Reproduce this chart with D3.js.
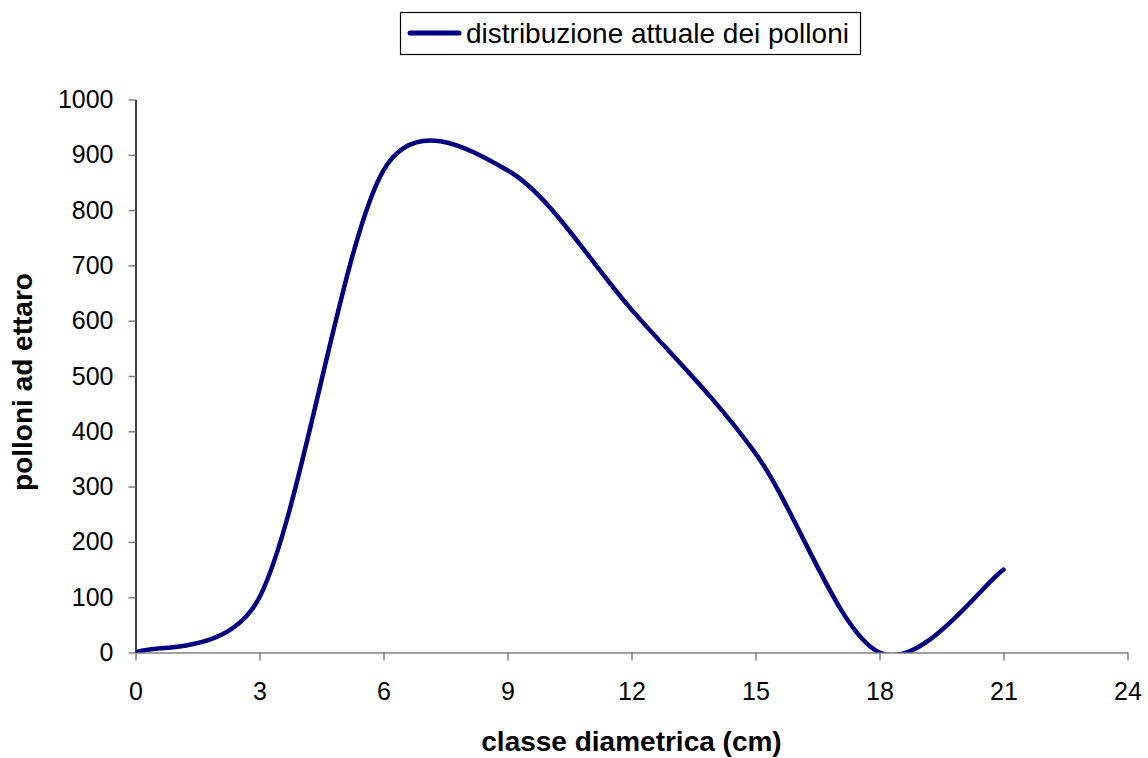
<!DOCTYPE html>
<html>
<head>
<meta charset="utf-8">
<script src="https://cdn.jsdelivr.net/npm/d3@7"></script>
<style>
  body { margin: 0; background: #fff; }
  svg { display: block; font-family: "Liberation Sans", Arial, sans-serif; }
</style>
</head>
<body>
<div id="chart"><svg></svg></div>
<script>
const classes = [0, 3, 6, 9, 12, 15, 18, 21]
const polloni = [0, 100, 872, 872, 620, 360, 0, 150]
const xTicks = [0, 3, 6, 9, 12, 15, 18, 21, 24]
const yTicks = [0, 100, 200, 300, 400, 500, 600, 700, 800, 900, 1000]
const seriesName = "distribuzione attuale dei polloni"
const xTitle = "classe diametrica (cm)"
const yTitle = "polloni ad ettaro"

const width = 1148
const height = 758
const plotLeft = 135.5
const plotRight = 1127.5
const plotTop = 99.5
const plotBottom = 652.5
const lineColor = "#000080"

// excel-like smoothing: bezier with 1/6 tangents, shortened on short segments
function ExcelCurve(context) {
  this._context = context
}
ExcelCurve.prototype = {
  areaStart() {},
  areaEnd() {},
  lineStart() {
    this._pts = []
  },
  point(x, y) {
    this._pts.push([+x, +y])
  },
  lineEnd() {
    const p = this._pts
    const n = p.length
    const ctx = this._context
    if (!n) return
    ctx.moveTo(p[0][0], p[0][1])
    const dist = (a, b) => Math.hypot(a[0] - b[0], a[1] - b[1])
    for (let i = 0; i < n - 1; i++) {
      const p0 = p[Math.max(i - 1, 0)]
      const p1 = p[i]
      const p2 = p[i + 1]
      const p3 = p[Math.min(i + 2, n - 1)]
      const d12 = dist(p1, p2)
      const d02 = dist(p0, p2)
      const d13 = dist(p1, p3)
      let f0 = 1 / 6
      let f1 = 1 / 6
      if (d02 / 6 >= d12 / 2) f0 = d12 / (2 * d02)
      if (d13 / 6 >= d12 / 2) f1 = d12 / (2 * d13)
      ctx.bezierCurveTo(
        p1[0] + f0 * (p2[0] - p0[0]), p1[1] + f0 * (p2[1] - p0[1]),
        p2[0] - f1 * (p3[0] - p1[0]), p2[1] - f1 * (p3[1] - p1[1]),
        p2[0], p2[1]
      )
    }
  },
}
const curveExcel = (context) => new ExcelCurve(context)

const svg = d3.select("#chart svg").attr("width", width).attr("height", height)

const x = d3.scaleLinear().domain([0, 24]).range([plotLeft, plotRight])
const y = d3.scaleLinear().domain([0, 1000]).range([plotBottom, plotTop])

// x axis
const xAxis = svg
  .append("g")
  .attr("transform", `translate(0, ${plotBottom})`)
  .call(d3.axisBottom(x).tickValues(xTicks).tickSize(8).tickSizeOuter(0).tickPadding(22))
xAxis.select(".domain").attr("stroke", "#808080").attr("stroke-width", 1.5)
xAxis.selectAll(".tick line").attr("stroke", "#808080").attr("stroke-width", 1.5)
xAxis.selectAll(".tick text").attr("font-size", 25).attr("fill", "#000").attr("font-family", null)

// y axis
const yAxis = svg
  .append("g")
  .attr("transform", `translate(${plotLeft}, 0)`)
  .call(d3.axisLeft(y).tickValues(yTicks).tickFormat(d3.format("d")).tickSize(7).tickSizeOuter(0).tickPadding(15))
yAxis.select(".domain").attr("stroke", "#000").attr("stroke-width", 1.5)
yAxis.selectAll(".tick line").attr("stroke", "#808080").attr("stroke-width", 1.5)
yAxis.selectAll(".tick text").attr("font-size", 25).attr("fill", "#000").attr("font-family", null)

// axis titles
svg
  .append("text")
  .attr("x", (plotLeft + plotRight) / 2)
  .attr("y", 751)
  .attr("text-anchor", "middle")
  .attr("font-size", 28)
  .attr("font-weight", "bold")
  .text(xTitle)

svg
  .append("text")
  .attr("transform", `translate(32, ${(plotTop + plotBottom) / 2 + 6}) rotate(-90)`)
  .attr("text-anchor", "middle")
  .attr("font-size", 28)
  .attr("font-weight", "bold")
  .text(yTitle)

// series
svg
  .append("clipPath")
  .attr("id", "plot-clip")
  .append("rect")
  .attr("x", plotLeft)
  .attr("y", plotTop - 10)
  .attr("width", plotRight - plotLeft)
  .attr("height", plotBottom - plotTop + 10)

const line = d3
  .line()
  .x((d, i) => x(classes[i]))
  .y((d) => y(d))
  .curve(curveExcel)

svg
  .append("path")
  .datum(polloni)
  .attr("clip-path", "url(#plot-clip)")
  .attr("fill", "none")
  .attr("stroke", lineColor)
  .attr("stroke-width", 4.5)
  .attr("stroke-linecap", "round")
  .attr("stroke-linejoin", "round")
  .attr("d", line)

// legend
const legend = svg.append("g")
legend
  .append("rect")
  .attr("x", 400.5)
  .attr("y", 12.5)
  .attr("width", 460)
  .attr("height", 42)
  .attr("fill", "#fff")
  .attr("stroke", "#000")
  .attr("stroke-width", 1.2)
legend
  .append("line")
  .attr("x1", 410)
  .attr("x2", 459)
  .attr("y1", 33)
  .attr("y2", 33)
  .attr("stroke", lineColor)
  .attr("stroke-width", 5)
  .attr("stroke-linecap", "round")
legend
  .append("text")
  .attr("x", 466)
  .attr("y", 43)
  .attr("font-size", 28)
  .text(seriesName)
</script>
</body>
</html>
